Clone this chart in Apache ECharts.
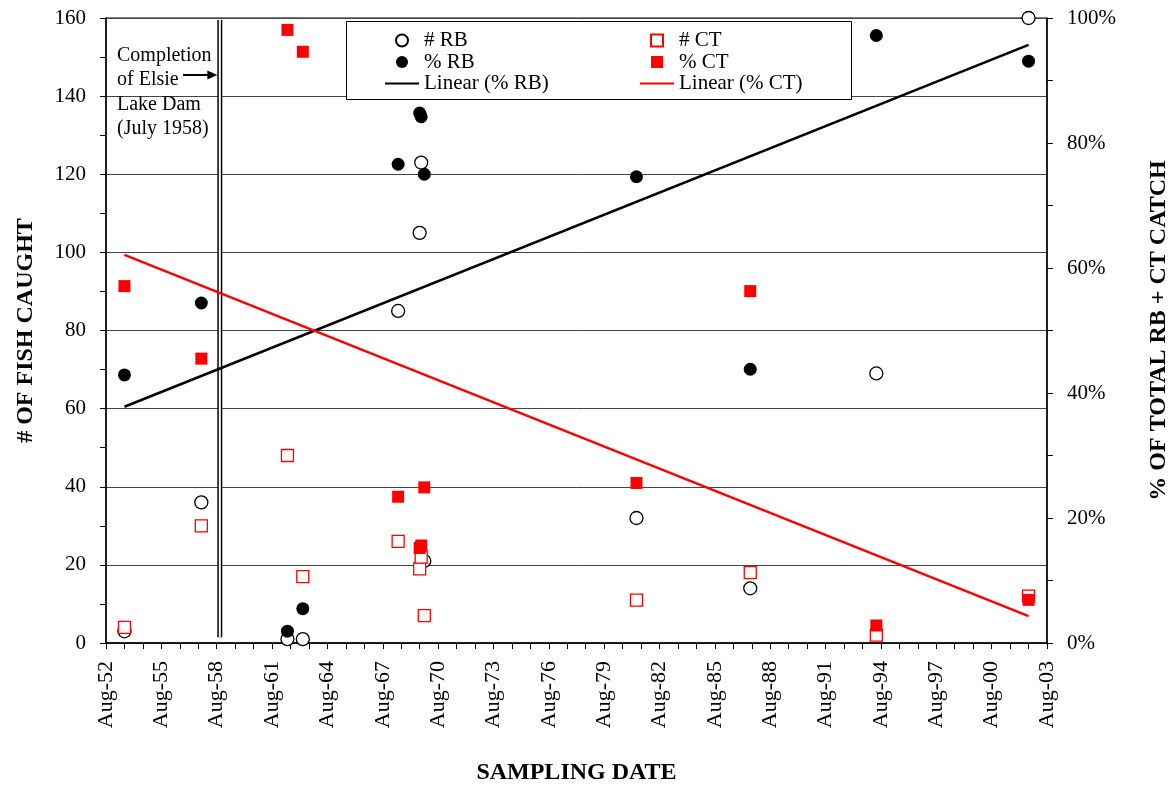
<!DOCTYPE html>
<html><head><meta charset="utf-8">
<script src="https://cdn.jsdelivr.net/npm/echarts@6/dist/echarts.min.js"></script>
<style>html,body{margin:0;padding:0;background:#fff}#chart{width:1171px;height:788px}</style>
</head><body><div id="chart"></div>
<script>
// ---- data ----
const sampleDates = ["1953-08","1957-10","1962-06","1963-04","1968-06","1969-08","1969-09","1969-11","1981-05","1987-07","1994-05","2002-08"];
const rbCount = [3, 36, 1, 1, 85, 105, 123, 21, 32, 14, 69, 160];
const ctCount = [4, 30, 48, 17, 26, 19, 22, 7, 11, 18, 2, 12];
const rbPct = [42.9, 54.4, 1.9, 5.5, 76.6, 84.8, 84.2, 75.0, 74.6, 43.8, 97.2, 93.1];
const ctPct = [57.1, 45.5, 98.1, 94.6, 23.4, 15.2, 15.6, 24.9, 25.6, 56.3, 2.8, 6.9];
const trendDates = ["1953-08", "2002-08"];
const rbTrend = [37.8, 95.7];
const ctTrend = [62.1, 4.3];
const damDate = "1958-10";
const damSpan = [1.5, 159.5];
const axisStartDate = "1952-08";
const axisEndDate = "2003-08";
const xTickMonth = "Aug";
const damNote = ["Completion", "of Elsie", "Lake Dam", "(July 1958)"];

// years since axis start
function ym(d){ const p = d.split("-"); return (+p[0]) + (+p[1]-1)/12; }
const base = ym(axisStartDate);
function toX(d){ return Math.round((ym(d) - base)*1000)/1000; }
const pairs = (dates, vals) => dates.map((d,i)=>[toX(d), vals[i]]);

const SERIF = '"Liberation Serif", "Times New Roman", serif';
const SQUARE_ICON = 'path://M0,0L10,0L10,10L0,10Z';
const LINE_ICON = 'path://M0,0L40,0L40,2.6L0,2.6Z';
const chart = echarts.init(document.getElementById('chart'), null, {renderer:'canvas'});

const tickCommon = {
  axisLine:{show:true, lineStyle:{color:'#000', width:1.5}},
  axisTick:{show:true, inside:false, length:6, lineStyle:{color:'#000', width:1}},
};
const legendCommon = {
  orient:'vertical', top:30, padding:0, itemWidth:34, itemHeight:12, itemGap:0.5,
  selectedMode:false, symbolKeepAspect:true,
  textStyle:{fontFamily:SERIF, fontSize:21, lineHeight:21, color:'#000'}
};

const option = {
  animation:false,
  backgroundColor:'#fff',
  grid:{left:106, right:124, top:18, bottom:145, show:true, borderColor:'#000', borderWidth:1, containLabel:false, outerBoundsMode:'none'},
  xAxis:{
    type:'value', min:0, max:toX(axisEndDate), interval:3,
    ...tickCommon,
    minorTick:{show:true, splitNumber:3, length:6, lineStyle:{color:'#000', width:1}},
    splitLine:{show:false}, minorSplitLine:{show:false},
    axisLabel:{rotate:90, margin:18, fontFamily:SERIF, fontSize:22, color:'#000',
      formatter:v=>{ const y = Math.round(base + v - 7/12); return xTickMonth + '-' + String(((y%100)+100)%100).padStart(2,'0'); }},
    name:'SAMPLING DATE', nameLocation:'middle', nameGap:118,
    nameTextStyle:{fontFamily:SERIF, fontSize:24, fontWeight:'bold', color:'#000'}
  },
  yAxis:[{
    type:'value', min:0, max:160, interval:20, position:'left',
    ...tickCommon,
    minorTick:{show:true, splitNumber:2, length:6, lineStyle:{color:'#000', width:1}},
    splitLine:{show:true, lineStyle:{color:'#444', width:1}},
    axisLabel:{margin:20, fontFamily:SERIF, fontSize:21, color:'#000'},
    name:'# OF FISH CAUGHT', nameLocation:'middle', nameGap:68, nameRotate:90,
    nameTextStyle:{fontFamily:SERIF, fontSize:24, fontWeight:'bold', color:'#000'}
  },{
    type:'value', min:0, max:100, interval:20, position:'right',
    ...tickCommon,
    minorTick:{show:true, splitNumber:2, length:6, lineStyle:{color:'#000', width:1}},
    splitLine:{show:false},
    axisLabel:{margin:20, fontFamily:SERIF, fontSize:21, color:'#000', formatter:'{value}%'},
    name:'% OF TOTAL RB + CT CATCH', nameLocation:'middle', nameGap:100, nameRotate:90,
    nameTextStyle:{fontFamily:SERIF, fontSize:24, fontWeight:'bold', color:'#000'}
  }],
  legend:[{
    ...legendCommon, left:385,
    data:[{name:'# RB', icon:'circle'},{name:'% RB', icon:'circle'},{name:'Linear (% RB)', icon:LINE_ICON}]
  },{
    ...legendCommon, left:640,
    data:[{name:'# CT', icon:SQUARE_ICON},{name:'% CT', icon:SQUARE_ICON},{name:'Linear (% CT)', icon:LINE_ICON}]
  }],
  series:[
    {name:'dam-outer', type:'line', yAxisIndex:0, silent:true, symbol:'none',
      data:[[toX(damDate), damSpan[0]],[toX(damDate), damSpan[1]]],
      lineStyle:{color:'#000', width:5}, z:1},
    {name:'dam-inner', type:'line', yAxisIndex:0, silent:true, symbol:'none',
      data:[[toX(damDate), damSpan[0]],[toX(damDate), damSpan[1]]],
      lineStyle:{color:'#fff', width:2}, z:1},
    {name:'Linear (% RB)', type:'line', yAxisIndex:1, symbol:'none', showSymbol:false,
      data:pairs(trendDates, rbTrend), lineStyle:{color:'#000', width:2.5}, itemStyle:{color:'#000'}},
    {name:'Linear (% CT)', type:'line', yAxisIndex:1, symbol:'none', showSymbol:false,
      data:pairs(trendDates, ctTrend), lineStyle:{color:'#ff0000', width:2.5}, itemStyle:{color:'#ff0000'}},
    {name:'# RB', type:'scatter', yAxisIndex:0, symbol:'circle', symbolSize:13,
      data:pairs(sampleDates, rbCount),
      itemStyle:{color:'#fff', borderColor:'#000', borderWidth:1.3, opacity:1}},
    {name:'# CT', type:'scatter', yAxisIndex:0, symbol:'rect', symbolSize:12,
      data:pairs(sampleDates, ctCount),
      itemStyle:{color:'#fff', borderColor:'#ff0000', borderWidth:1.3, opacity:1}},
    {name:'% RB', type:'scatter', yAxisIndex:1, symbol:'circle', symbolSize:13,
      data:pairs(sampleDates, rbPct),
      itemStyle:{color:'#000', opacity:1}},
    {name:'% CT', type:'scatter', yAxisIndex:1, symbol:'rect', symbolSize:12,
      data:pairs(sampleDates, ctPct),
      itemStyle:{color:'#ff0000', opacity:1}}
  ]
};
chart.setOption(option);

// annotations (legend frame, dam note, arrow)
const damPx = chart.convertToPixel({xAxisIndex:0}, toX(damDate));
const arrowY = 75;
const tip = damPx - 2.5;
chart.setOption({
  graphic:[
    {type:'rect', left:346, top:21, z:3, shape:{width:505, height:78},
      style:{fill:'#fff', stroke:'#000', lineWidth:1}},
    {type:'text', left:117, top:43, z:5,
      style:{text:damNote.join('\n'), font:'20px ' + SERIF, lineHeight:24.5, fill:'#000'}},
    {type:'line', z:5, shape:{x1:183, y1:arrowY, x2:tip-8, y2:arrowY},
      style:{stroke:'#000', lineWidth:2}},
    {type:'polygon', z:5, shape:{points:[[tip, arrowY],[tip-10, arrowY-4.5],[tip-10, arrowY+4.5]]},
      style:{fill:'#000'}}
  ]
});
</script>
</body></html>
